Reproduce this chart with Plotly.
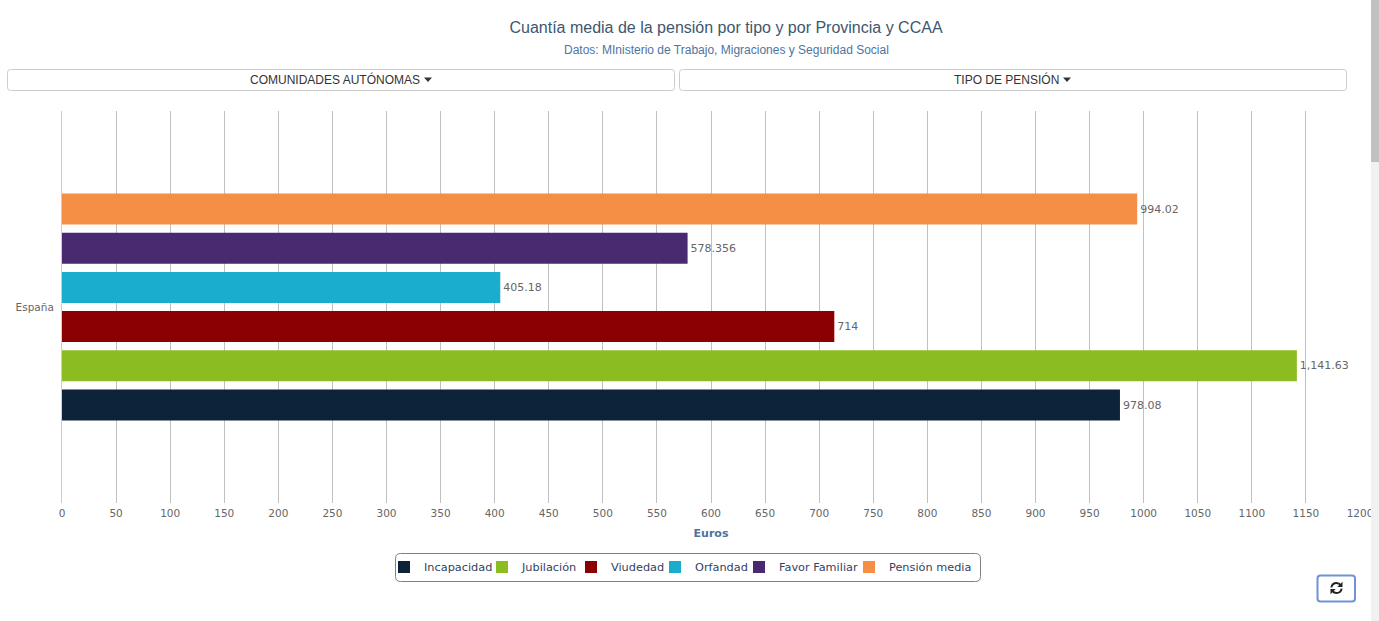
import plotly.graph_objects as go

W, H = 1379, 621
L, R, T, B = 62, 1360, 111, 503

categories = ["España"]
series_names = ["Incapacidad", "Jubilación", "Viudedad", "Orfandad", "Favor Familiar", "Pensión media"]
series_values = [978.08, 1141.63, 714, 405.18, 578.356, 994.02]
value_labels = ["978.08", "1,141.63", "714", "405.18", "578.356", "994.02"]
series_colors = ["#0D233A", "#8BBC21", "#8B0000", "#1AADCE", "#492970", "#F48F45"]
legend_widths = [53, 44, 39, 39, 65, 90]
tick_values = list(range(0, 1201, 50))

FONT = "DejaVu Sans"
SANS = "Liberation Sans"


def px(x):
    return (x - L) / (R - L)


def py(y):
    return (B - y) / (B - T)


def rounded(x0, y0, x1, y1, r):
    a, b, c, d = px(x0), px(x1), py(y0), py(y1)
    rx, ry = r / (R - L), r / (B - T)
    return (f"M{a+rx},{c} L{b-rx},{c} Q{b},{c} {b},{c-ry} L{b},{d+ry} Q{b},{d} {b-rx},{d} "
            f"L{a+rx},{d} Q{a},{d} {a},{d+ry} L{a},{c-ry} Q{a},{c} {a+rx},{c} Z")


def path_shape(path, line="rgba(0,0,0,0)", fill="rgba(0,0,0,0)", width=1):
    return dict(type="path", xref="paper", yref="paper", path=path,
                line=dict(color=line, width=width), fillcolor=fill, layer="above")


def rect(x0, y0, x1, y1, fill):
    return dict(type="rect", xref="paper", yref="paper", x0=px(x0), x1=px(x1), y0=py(y0), y1=py(y1),
                line=dict(width=0), fillcolor=fill, layer="above")


def caret(cx, cy):
    return f"M{px(cx-4)},{py(cy-2)} L{px(cx+4)},{py(cy-2)} L{px(cx)},{py(cy+2.5)} Z"


def poly(pts, cx, cy, close=True, sign=1):
    s = " L".join(f"{px(cx + sign * a)},{py(cy + sign * b)}" for a, b in pts)
    return "M" + s + (" Z" if close else "")


def arc(cx, cy, sign):
    p = lambda a, b: f"{px(cx + sign * a)},{py(cy + sign * b)}"
    return f"M{p(-5.2, -0.6)} Q{p(-4.2, -5)} {p(0, -5)} Q{p(2.6, -5)} {p(4.2, -2.8)}"


def text(x, y, s, size, color, family=SANS):
    return dict(xref="paper", yref="paper", x=px(x), y=py(y), text=s, showarrow=False,
                xanchor="center", yanchor="middle", font=dict(family=family, size=size, color=color))


fig = go.Figure()
for name, val, lab, col, lw in zip(series_names, series_values, value_labels, series_colors, legend_widths):
    fig.add_trace(go.Bar(
        y=categories, x=[val], name=name, orientation="h", marker=dict(color=col, line=dict(width=0)),
        text=[lab], textposition="outside", cliponaxis=False, legendwidth=lw,
        textfont=dict(family=FONT, size=11, color="#666666"),
    ))

ICX, ICY = 1336.5, 588
shapes = [
    path_shape(rounded(7.5, 69.5, 674.5, 90.5, 3), line="#CCCCCC"),
    path_shape(rounded(679.5, 69.5, 1346.5, 90.5, 3), line="#CCCCCC"),
    path_shape(caret(428, 79.5), fill="#333333"),
    path_shape(caret(1067, 79.5), fill="#333333"),
    path_shape(rounded(395.5, 553.5, 980.5, 581.5, 5), line="#808080"),
    path_shape(rounded(1317.5, 575.5, 1355, 601.5, 3), line="#6F93D6", width=2),
    path_shape(arc(ICX, ICY, 1), line="#222222", width=2),
    path_shape(arc(ICX, ICY, -1), line="#222222", width=2),
    path_shape(poly([(6, -6.2), (6, -1), (0.8, -1)], ICX, ICY), fill="#222222"),
    path_shape(poly([(6, -6.2), (6, -1), (0.8, -1)], ICX, ICY, sign=-1), fill="#222222"),
    rect(1371, 0, 1379, 621, "#F1F1F1"),
    rect(1371, 0, 1379, 162, "#C1C1C1"),
]

annotations = [
    text(726, 50, "Datos: MInisterio de Trabajo, Migraciones y Seguridad Social", 12, "#4D759E"),
    text(335, 79.5, "COMUNIDADES AUTÓNOMAS", 12, "#333333"),
    text(1006.5, 79.5, "TIPO DE PENSIÓN", 12, "#333333"),
]

fig.update_layout(
    width=W, height=H, autosize=False,
    margin=dict(l=L, r=W - R, t=T, b=H - B, autoexpand=False),
    paper_bgcolor="white", plot_bgcolor="white",
    font=dict(family=FONT, size=10.5, color="#666666"),
    title=dict(
        text="Cuantía media de la pensión por tipo y por Provincia y CCAA",
        x=726 / W, xref="container", xanchor="center",
        y=1 - 27.5 / H, yref="container", yanchor="middle",
        font=dict(family=SANS, size=16, color="#3E576F"),
    ),
    barmode="group", bargap=0.4, bargroupgap=0.21,
    showlegend=True,
    legend=dict(
        orientation="h", x=px(398) - 14 / (R - L), y=py(567), xref="paper", yref="paper",
        xanchor="left", yanchor="middle", bgcolor="rgba(0,0,0,0)",
        font=dict(family=FONT, size=11.3, color="#333F5F"), traceorder="normal",
    ),
    xaxis=dict(
        automargin=False,
        range=[0, 1200], tickmode="array", tickvals=tick_values, showgrid=True, gridcolor="#C0C0C0", gridwidth=1,
        zeroline=False, showline=False, ticks="outside", ticklen=0,
        tickfont=dict(family=FONT, size=10.5, color="#666666"),
        title=dict(text="<b>Euros</b>", standoff=11, font=dict(family=FONT, size=11, color="#4D759E")),
    ),
    yaxis=dict(
        automargin=False,
        showgrid=False, zeroline=False, showline=True, linecolor="#C0D0E0", linewidth=1,
        ticks="outside", ticklen=5, tickcolor="rgba(0,0,0,0)",
        tickfont=dict(family=FONT, size=10.5, color="#666666"),
    ),
    shapes=shapes, annotations=annotations,
    hovermode="closest",
)

fig.write_html("out.html", config=dict(displayModeBar=False),
               post_script="document.body.style.margin='0';document.body.style.overflow='hidden';")
